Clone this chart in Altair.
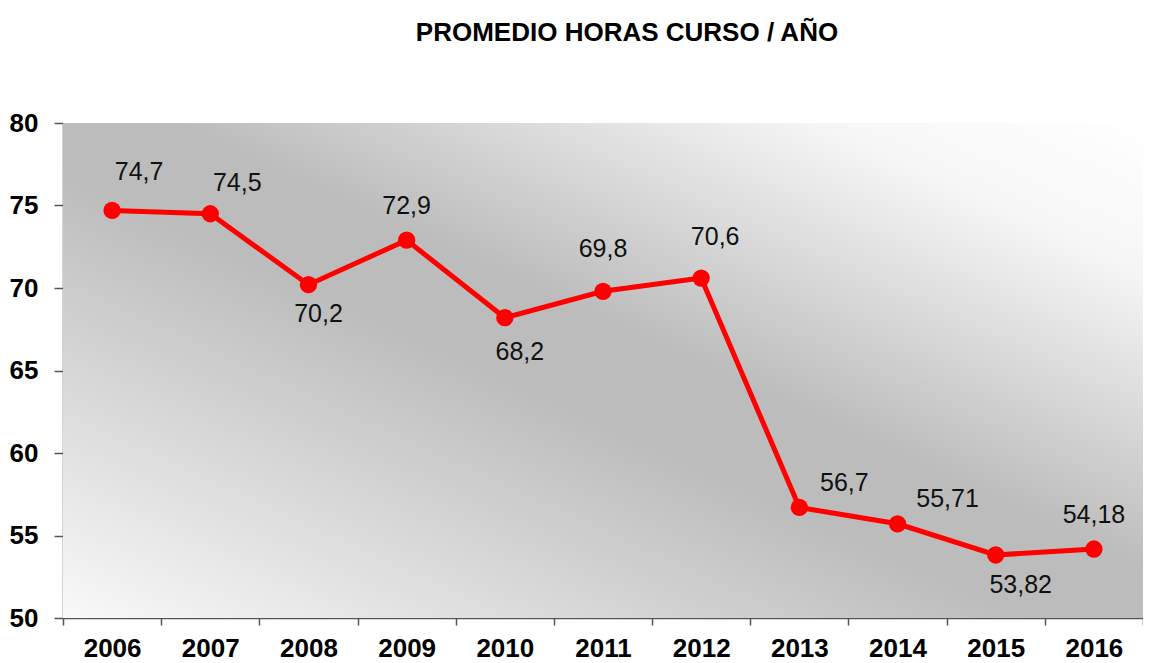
import altair as alt
import pandas as pd

years = ["2006", "2007", "2008", "2009", "2010", "2011", "2012", "2013", "2014", "2015", "2016"]
values = [74.7, 74.5, 70.2, 72.9, 68.2, 69.8, 70.6, 56.7, 55.71, 53.82, 54.18]
labels = ["74,7", "74,5", "70,2", "72,9", "68,2", "69,8", "70,6", "56,7", "55,71", "53,82", "54,18"]
y_ticks = [50, 55, 60, 65, 70, 75, 80]

df = pd.DataFrame({"year": years, "value": values, "label": labels})

W, H = 1080, 495
FONT = "Liberation Sans Narrow, Arial Narrow, Liberation Sans, sans-serif"

# label placement styles (pixel offsets from each point)
label_style = {
    "2006": (27, -38), "2007": (27, -31), "2008": (10, 29), "2009": (0, -34),
    "2010": (15, 34), "2011": (0, -42), "2012": (14, -41), "2013": (45, -24),
    "2014": (50, -25), "2015": (25, 30), "2016": (0, -34),
}

xenc = alt.X("year:N", sort=years,
             scale=alt.Scale(type="band", paddingInner=0, paddingOuter=0),
             axis=alt.Axis(title=None, tickBand="extent", tickSize=7, labelPadding=10,
                           labelFontSize=26, labelFontWeight="bold", labelFont=FONT,
                           labelColor="#000000", domainColor="#555555", tickColor="#555555",
                           domainWidth=1.5, tickWidth=1.5, grid=False, labelAngle=0))
yenc = alt.Y("value:Q",
             scale=alt.Scale(domain=[50, 80], nice=False, zero=False),
             axis=alt.Axis(title=None, values=y_ticks, tickSize=9, labelPadding=16,
                           labelFontSize=26, labelFontWeight="bold", labelFont=FONT,
                           labelColor="#000000", domainColor="#555555", tickColor="#555555",
                           domainWidth=1.5, tickWidth=1.5, grid=False))

grad = alt.Gradient(
    gradient="linear", x1=0, y1=1, x2=1, y2=0,
    stops=[
        alt.GradientStop(offset=0, color="#f9f9f9"),
        alt.GradientStop(offset=0.45, color="#bcbcbc"),
        alt.GradientStop(offset=0.55, color="#bcbcbc"),
        alt.GradientStop(offset=0.85, color="#f6f6f6"),
        alt.GradientStop(offset=1, color="#ffffff"),
    ],
)

bg = alt.Chart(df).mark_rect(color=grad).encode(
    x=alt.value(0), x2=alt.value(W), y=alt.value(0), y2=alt.value(H)
)

base = alt.Chart(df)
line = base.mark_line(color="#ff0000", strokeWidth=5).encode(x=xenc, y=yenc)
pts = base.mark_circle(color="#ff0000", size=300, opacity=1).encode(x=xenc, y=yenc)

texts = []
for yr, (dx, dy) in label_style.items():
    texts.append(
        base.transform_filter(alt.datum.year == yr)
        .mark_text(dx=dx, dy=dy, fontSize=25, font=FONT, color="#111111",
                   align="center", baseline="middle")
        .encode(x=xenc, y=yenc, text="label:N")
    )

chart = alt.layer(bg, line, pts, *texts).properties(
    width=W, height=H,
    title=alt.TitleParams("PROMEDIO HORAS CURSO / AÑO", fontSize=26, fontWeight="bold",
                          font=FONT, color="#000000", anchor="middle", dx=24, offset=64),
    autosize=alt.AutoSizeParams(type="none"),
    padding={"left": 55, "top": 115, "right": 0, "bottom": 45},
).configure_view(stroke=None)

chart.save("out.html", embed_options={"renderer": "svg", "actions": False})
